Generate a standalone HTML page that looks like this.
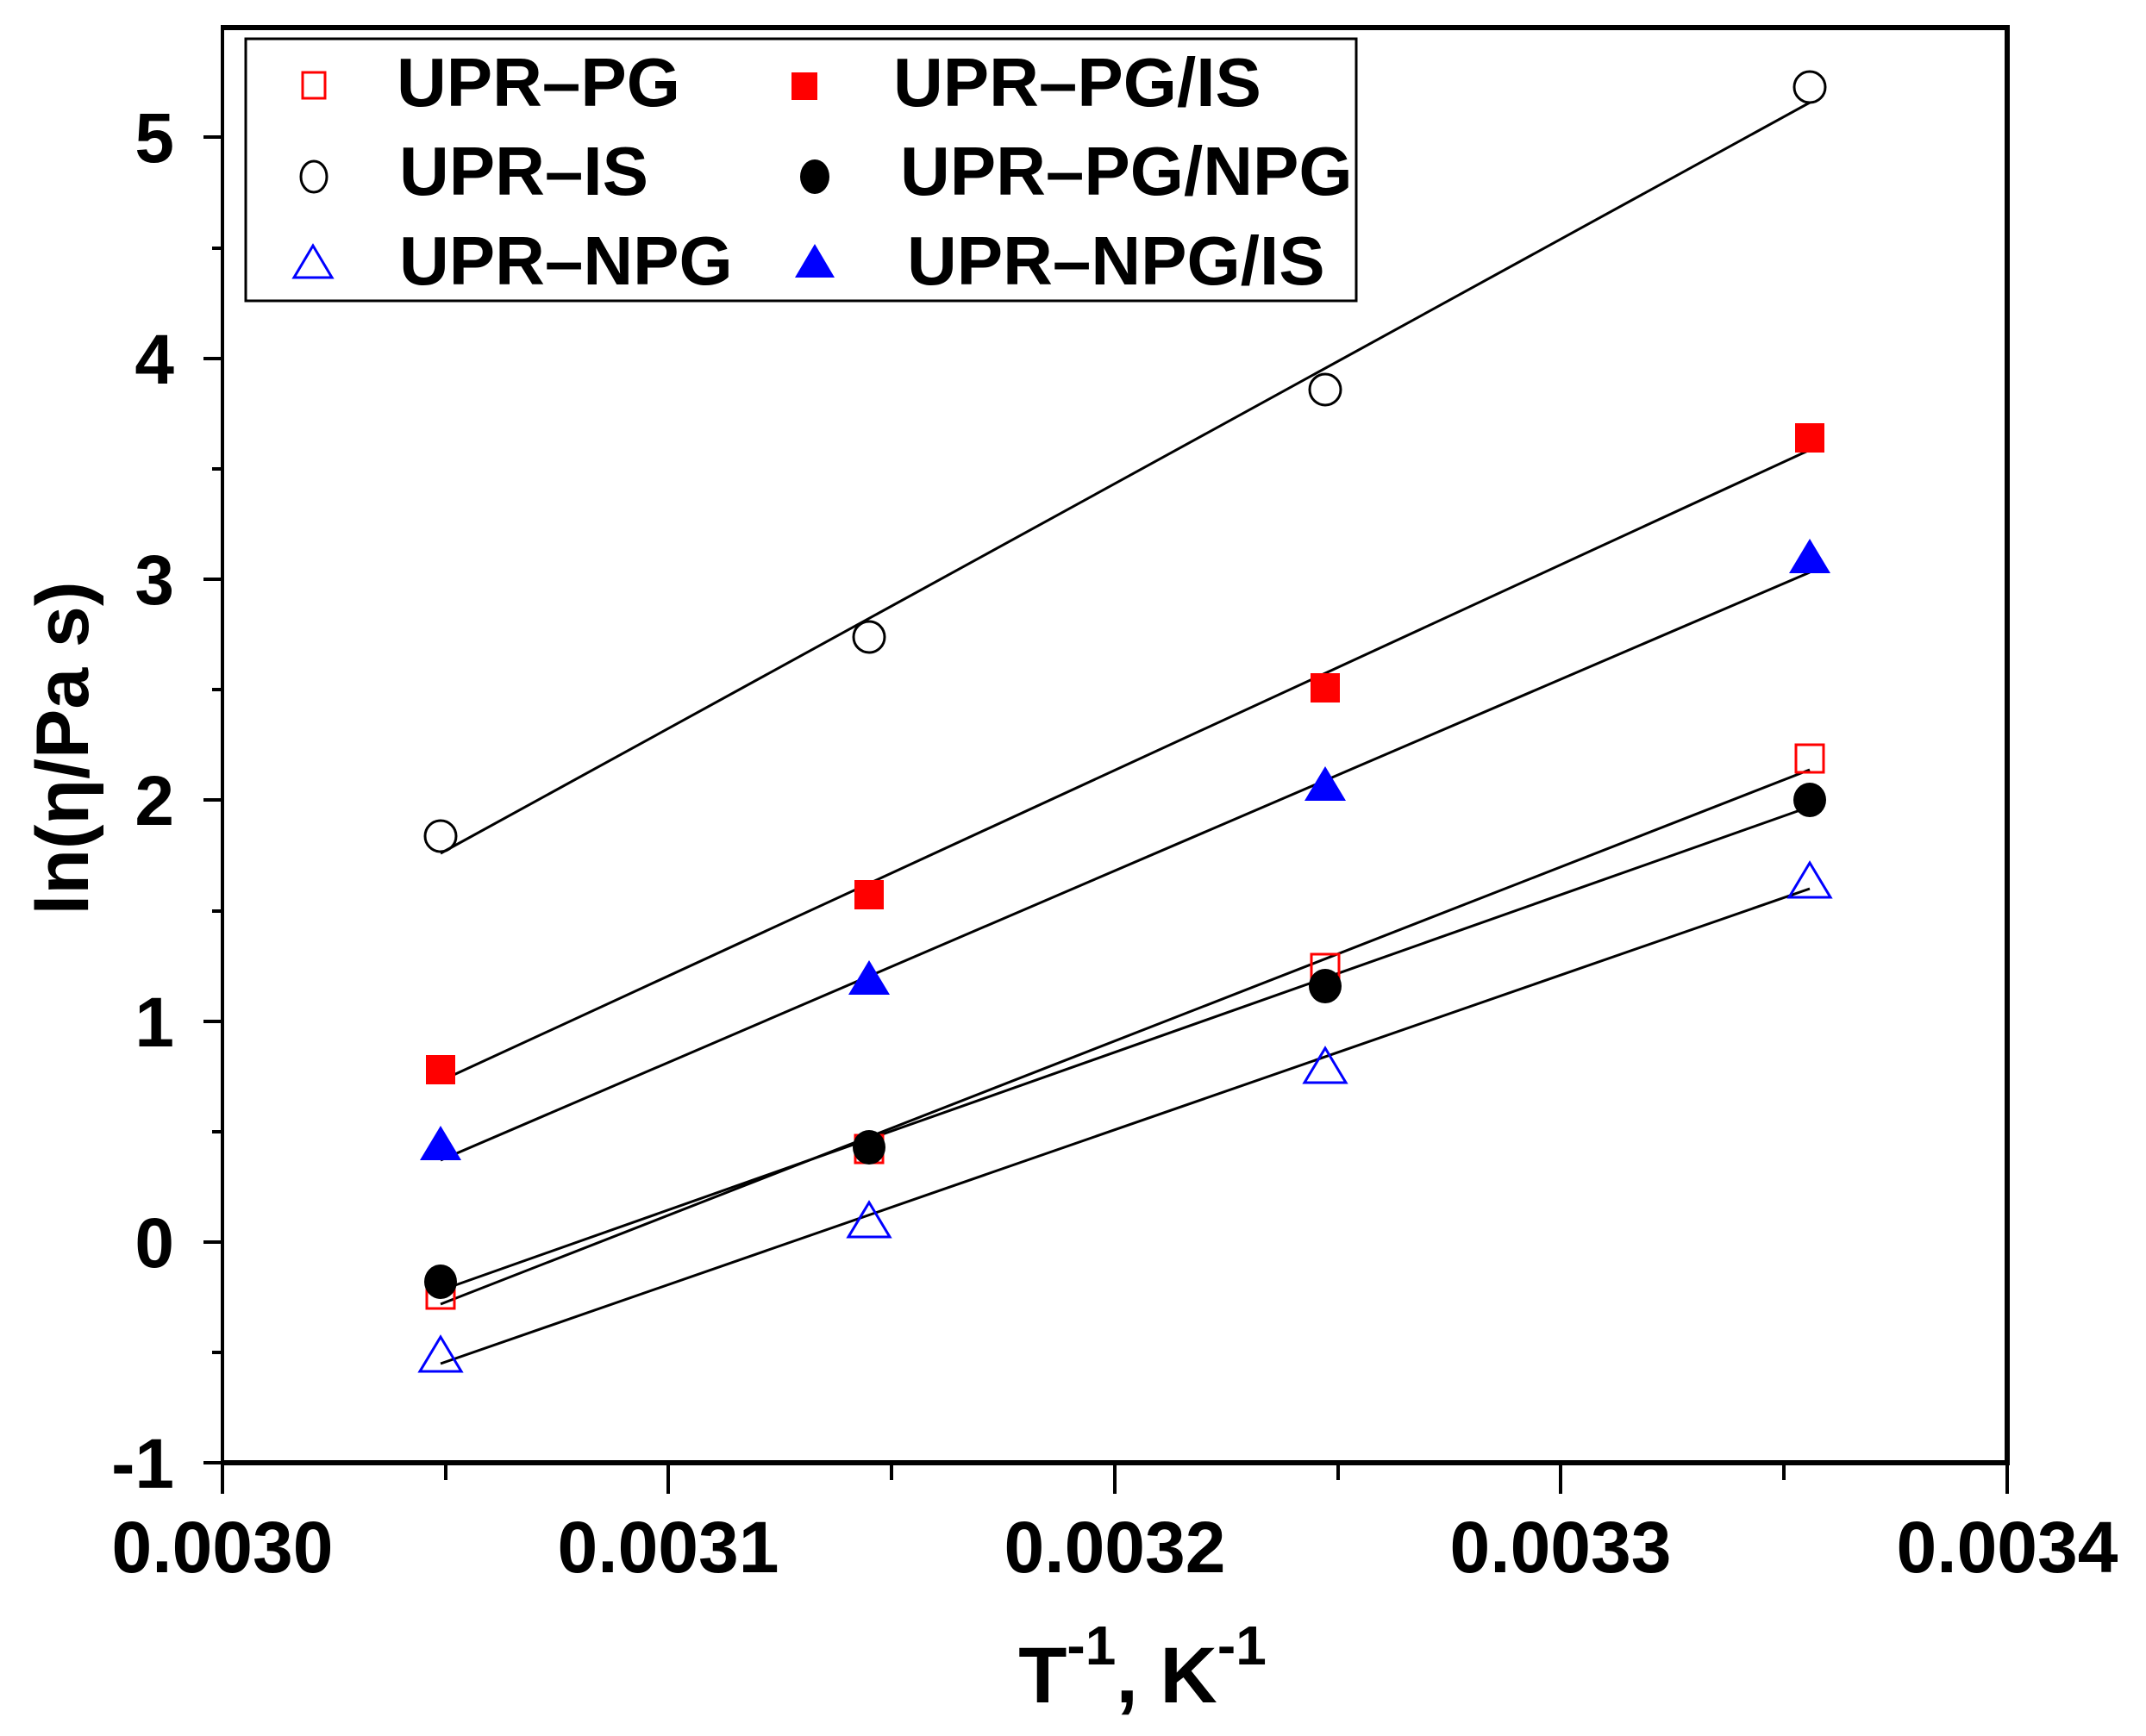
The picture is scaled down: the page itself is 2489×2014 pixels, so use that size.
<!DOCTYPE html>
<html><head><meta charset="utf-8"><style>
html,body{margin:0;padding:0;background:#fff}
svg{display:block}
text{font-family:"Liberation Sans",Arial,sans-serif;font-weight:bold;fill:#000}
</style></head><body>
<svg width="2489" height="2014" viewBox="0 0 2489 2014" xmlns="http://www.w3.org/2000/svg">
<g stroke="#000" stroke-width="3" fill="none">
<line x1="511" y1="990" x2="2099" y2="119"/>
<line x1="511" y1="1254" x2="2099" y2="522"/>
<line x1="511" y1="1346" x2="2099" y2="664"/>
<line x1="511" y1="1513" x2="2099" y2="893"/>
<line x1="511" y1="1497" x2="2099" y2="936"/>
<line x1="511" y1="1582" x2="2099" y2="1031"/>
</g>
<g stroke="#000" stroke-width="3" fill="none">
<circle cx="511" cy="970" r="18"/><circle cx="1008" cy="739" r="18"/><circle cx="1537" cy="452" r="18"/><circle cx="2099" cy="101" r="18"/>
</g>
<g fill="#f00">
<rect x="494" y="1224" width="34" height="34"/><rect x="991" y="1021" width="34" height="34"/><rect x="1520" y="781" width="34" height="34"/><rect x="2082" y="491" width="34" height="34"/>
</g>
<g fill="none" stroke="#f00" stroke-width="3">
<rect x="495" y="1486" width="32" height="32"/><rect x="992" y="1317" width="32" height="32"/><rect x="1521" y="1107" width="32" height="32"/><rect x="2083" y="864" width="32" height="32"/>
</g>
<g fill="#00f">
<polygon points="511,1306 487,1346 535,1346"/><polygon points="1008,1114 984,1154 1032,1154"/><polygon points="1537,889 1513,929 1561,929"/><polygon points="2099,625 2075,665 2123,665"/>
</g>
<g fill="#000">
<ellipse cx="511" cy="1487" rx="19" ry="20"/><ellipse cx="1008" cy="1331" rx="19" ry="20"/><ellipse cx="1537" cy="1144" rx="19" ry="20"/><ellipse cx="2099" cy="928" rx="19" ry="20"/>
</g>
<g fill="none" stroke="#00f" stroke-width="3">
<polygon points="511,1551 487,1591 535,1591"/><polygon points="1008,1395 984,1435 1032,1435"/><polygon points="1537,1216 1513,1256 1561,1256"/><polygon points="2099,1001 2075,1041 2123,1041"/>
</g>
<g stroke="#000" fill="none">
<line x1="258" y1="32" x2="2330" y2="32" stroke-width="6"/>
<line x1="258" y1="1697" x2="2330" y2="1697" stroke-width="6"/>
<line x1="258" y1="29" x2="258" y2="1700" stroke-width="4"/>
<line x1="2328" y1="29" x2="2328" y2="1700" stroke-width="6"/>
</g>
<g stroke="#000" stroke-width="4">
<line x1="258" y1="1697" x2="258" y2="1733"/><line x1="775" y1="1697" x2="775" y2="1733"/><line x1="1293" y1="1697" x2="1293" y2="1733"/><line x1="1810" y1="1697" x2="1810" y2="1733"/><line x1="2328" y1="1697" x2="2328" y2="1733"/>
<line x1="517" y1="1697" x2="517" y2="1717"/><line x1="1034" y1="1697" x2="1034" y2="1717"/><line x1="1552" y1="1697" x2="1552" y2="1717"/><line x1="2069" y1="1697" x2="2069" y2="1717"/>
<line x1="236" y1="1697" x2="258" y2="1697"/><line x1="236" y1="1441" x2="258" y2="1441"/><line x1="236" y1="1185" x2="258" y2="1185"/><line x1="236" y1="928" x2="258" y2="928"/><line x1="236" y1="672" x2="258" y2="672"/><line x1="236" y1="416" x2="258" y2="416"/><line x1="236" y1="159" x2="258" y2="159"/>
<line x1="246" y1="1569" x2="258" y2="1569"/><line x1="246" y1="1313" x2="258" y2="1313"/><line x1="246" y1="1057" x2="258" y2="1057"/><line x1="246" y1="800" x2="258" y2="800"/><line x1="246" y1="544" x2="258" y2="544"/><line x1="246" y1="288" x2="258" y2="288"/>
</g>
<g font-size="82" text-anchor="end">
<text x="202" y="1726">-1</text><text x="202" y="1470">0</text><text x="202" y="1214">1</text><text x="202" y="957">2</text><text x="202" y="701">3</text><text x="202" y="445">4</text><text x="202" y="188">5</text>
</g>
<g font-size="84" text-anchor="middle">
<text x="258" y="1824">0.0030</text><text x="775" y="1824">0.0031</text><text x="1293" y="1824">0.0032</text><text x="1810" y="1824">0.0033</text><text x="2328" y="1824">0.0034</text>
</g>
<text x="1325" y="1975" font-size="92" text-anchor="middle">T<tspan font-size="64" dy="-44">-1</tspan><tspan dy="44">, K</tspan><tspan font-size="64" dy="-44">-1</tspan></text>
<text transform="translate(102,868) rotate(-90)" font-size="86" text-anchor="middle">ln(η/Pa s)</text>
<rect x="285" y="45" width="1288" height="304" fill="#fff" stroke="#000" stroke-width="3"/>
<rect x="351" y="84" width="26" height="30" fill="none" stroke="#f00" stroke-width="3"/>
<rect x="918" y="84" width="30" height="32" fill="#f00"/>
<ellipse cx="364" cy="205" rx="15" ry="18" fill="none" stroke="#000" stroke-width="3"/>
<ellipse cx="945" cy="205" rx="17" ry="20" fill="#000"/>
<polygon points="363,285 341,322 385,322" fill="none" stroke="#00f" stroke-width="3"/>
<polygon points="945,283 922,322 968,322" fill="#00f"/>
<g font-size="80">
<text x="460" y="123">UPR–PG</text><text x="1036" y="123">UPR–PG/IS</text>
<text x="463" y="226">UPR–IS</text><text x="1044" y="226">UPR–PG/NPG</text>
<text x="463" y="330">UPR–NPG</text><text x="1052" y="330">UPR–NPG/IS</text>
</g>
</svg>
</body></html>
